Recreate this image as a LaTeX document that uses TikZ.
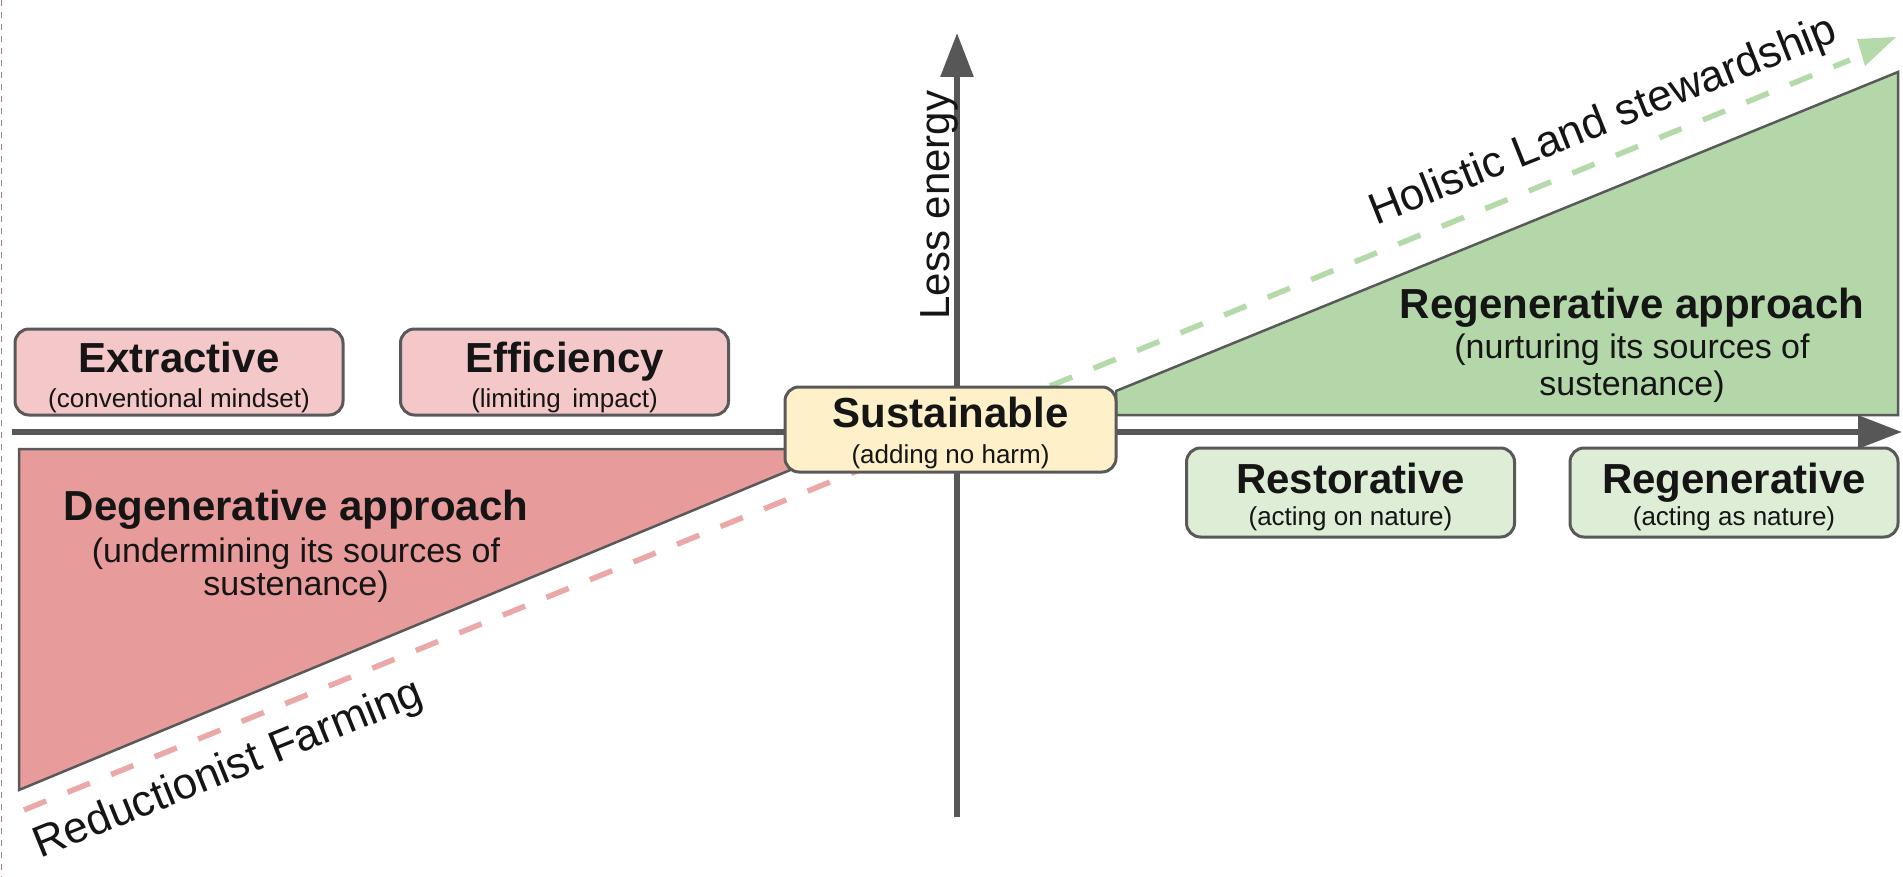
\documentclass[tikz,border=0pt]{standalone}
\usepackage{fontspec}
\setmainfont{Liberation Sans}
\usetikzlibrary{arrows.meta}

\definecolor{ink}{HTML}{151515}
\definecolor{boxline}{HTML}{595959}
\definecolor{axisgray}{HTML}{575757}
\definecolor{pinkfill}{HTML}{F4C8C8}
\definecolor{redfill}{HTML}{E89B9B}
\definecolor{reddash}{HTML}{EBA8A8}
\definecolor{greenfill}{HTML}{B3D7A8}
\definecolor{greenboxfill}{HTML}{DDEDD6}
\definecolor{greendash}{HTML}{B5DAAA}
\definecolor{yellowfill}{HTML}{FEF0C9}
\definecolor{edgemark}{HTML}{9A8378}

\begin{document}
\begin{tikzpicture}[x=1pt,y=-1pt,
  boxbase/.style={draw=boxline, line width=3pt, rounded corners=14pt,
    minimum width=328pt, minimum height=86pt, inner sep=0pt},
  pinkbox/.style={boxbase, fill=pinkfill},
  greenbox/.style={boxbase, fill=greenboxfill, minimum height=89pt},
  yellowbox/.style={boxbase, fill=yellowfill, minimum width=331pt, minimum height=85pt},
  headtext/.style={anchor=base, text=ink, inner sep=0pt,
    font=\fontsize{42}{44}\selectfont\bfseries},
  notetext/.style={anchor=base, text=ink, inner sep=0pt,
    font=\fontsize{26}{28}\selectfont},
  areatext/.style={anchor=base, text=ink, inner sep=0pt,
    font=\fontsize{34}{36}\selectfont},
  axistext/.style={anchor=base, text=ink, inner sep=0pt,
    font=\fontsize{42}{44}\selectfont},
  slopetext/.style={anchor=base, text=ink, inner sep=0pt,
    font=\fontsize{44}{46}\selectfont},
  axisline/.style={draw=axisgray, line width=6pt,
    -{Triangle[length=44pt,width=32pt]}},
  areaedge/.style={draw=boxline, line width=2.5pt, line join=miter},
  dashline/.style={line width=5.5pt, dash pattern=on 24pt off 23pt}
]
\useasboundingbox (0,0) rectangle (1903,877);

% thin dashed trim mark along the left edge
\draw[edgemark, line width=1.5pt, dash pattern=on 6pt off 6pt] (1.5,0) -- (1.5,877);

% degenerative area (below the axis, left)
\fill[redfill] (19,449) -- (800,449) -- (800,466) -- (19,790) -- cycle;
\draw[areaedge] (800,449) -- (19,449) -- (19,790) -- (800,466);

% regenerative area (above the axis, right)
\filldraw[areaedge, fill=greenfill] (1116,391) -- (1898,72) -- (1898,415) -- (1116,415) -- cycle;

% trend lines
\coordinate (rd0) at (24,810);
\coordinate (rd1) at (862,469);
\draw[dashline, draw=reddash] (rd0) -- (rd1);
\coordinate (gd0) at (1050,386);
\coordinate (gd1) at (1850,60);
\draw[dashline, draw=greendash] (gd0) -- (gd1);
\fill[greendash] (1857,39) -- (1896,37) -- (1865,66) -- cycle;

% axes
\coordinate (xs) at (12,432);
\coordinate (xe) at (1902,432);
\coordinate (ys) at (957,817);
\coordinate (ye) at (957,33);
\draw[axisline] (xs) -- (xe);
\draw[axisline] (ys) -- (ye);

% axis and trend labels
\node[axistext, rotate=90] (lessE) at (949,205) {Less energy};
\node[slopetext, rotate=21.7] (holT) at (1608,133) {Holistic Land stewardship};
\node[slopetext, rotate=22] (redT) at (233,781) {Reductionist Farming};

% area labels
\node[headtext] (degT) at (296,520) {Degenerative approach};
\node[areatext] (degS1) at (296,562) {(undermining its sources of};
\node[areatext] (degS2) at (296,595) {sustenance)};
\node[headtext] (regT) at (1632,318) {Regenerative approach};
\node[areatext] (regS1) at (1632,358) {(nurturing its sources of};
\node[areatext] (regS2) at (1632,395) {sustenance)};

% stage boxes
\node[pinkbox] (ext) at (179,372) {};
\node[headtext] (extT) at (179,372) {Extractive};
\node[notetext] (extS) at (179,407) {(conventional mindset)};

\node[pinkbox] (eff) at (564.5,372) {};
\node[headtext] (effT) at (564.5,372) {Efficiency};
\node[notetext] (effS) at (564.5,407) {(limiting\hspace{0.45em}impact)};

\node[yellowbox] (sus) at (950.5,429.5) {};
\node[headtext] (susT) at (950.5,427) {Sustainable};
\node[notetext] (susS) at (950.5,463) {(adding no harm)};

\node[greenbox] (res) at (1350.5,492.5) {};
\node[headtext] (resT) at (1350.5,493) {Restorative};
\node[notetext] (resS) at (1350.5,525) {(acting on nature)};

\node[greenbox] (rgn) at (1734,492.5) {};
\node[headtext] (rgnT) at (1734,493) {Regenerative};
\node[notetext] (rgnS) at (1734,525) {(acting as nature)};
\end{tikzpicture}
\end{document}
